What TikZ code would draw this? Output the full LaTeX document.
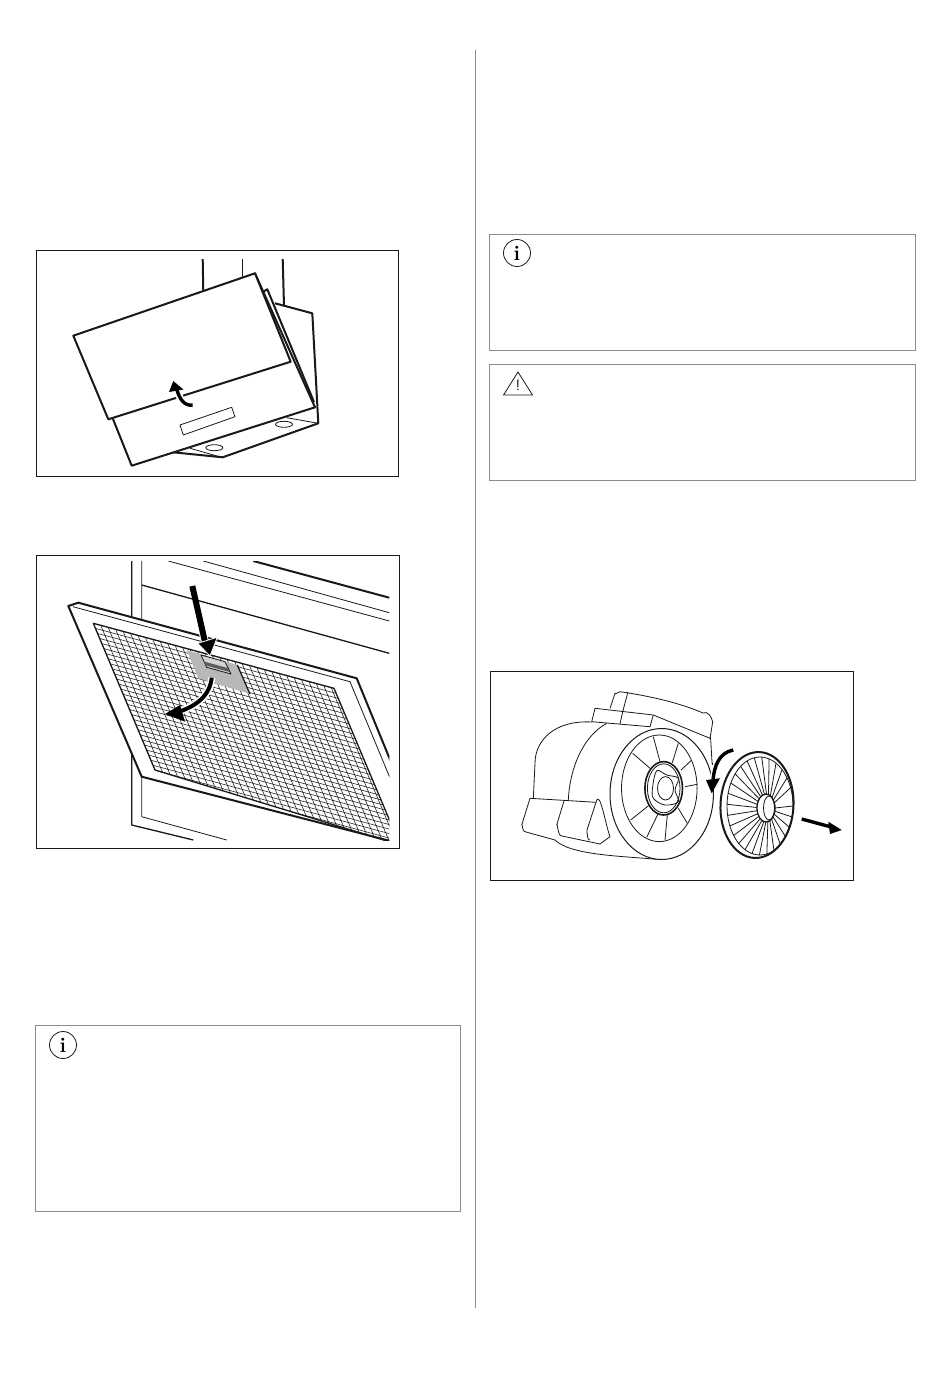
\documentclass[tikz,border=0pt]{standalone}
\usepackage{amsfonts}
\usepackage{tikz}
\definecolor{boxgray}{gray}{0.55}
\definecolor{tabgray}{gray}{0.72}
\definecolor{inkblack}{gray}{0.1}
\tikzset{
    panel/.style={draw=inkblack,line width=0.9pt},
    notebox/.style={draw=boxgray,line width=0.9pt},
    heavy/.style={draw=inkblack,line width=2pt,line join=round},
    medium/.style={draw=inkblack,line width=1.3pt,line join=round},
    fine/.style={draw=inkblack,line width=0.8pt,line join=round},
    meshline/.style={draw=inkblack,line width=0.55pt},
    tipfill/.style={fill=black},
    infomark/.style={draw=inkblack,line width=0.8pt,circle,minimum size=27pt,inner sep=0pt,font=\fontsize{21}{21}\selectfont\bfseries}
}
\begin{document}
\begin{tikzpicture}[x=1pt,y=-1pt]
    \useasboundingbox (0,0) rectangle (950,1383);
    \fill [white] (0,0) rectangle (950,1383);
    \draw [boxgray,line width=0.9pt] (475.5,50)--(475.5,1308); % column rule

    \draw [panel] (36.5,250.5) rectangle (398.5,476.5); % first panel
    \draw [heavy] (202.7,259)--(203.3,292); \draw [fine] (242,259)--(242,277); \draw [heavy] (282.7,259)--(284,306); % chimney
    \draw [heavy] (275,303.3)--(312.3,313.3)--(318.3,423.3)--(222.7,457.3)--(173.3,452.3); % back body
    \draw [heavy] (263.3,291.7)--(267.3,289.3)--(314,402); % back edge
    \draw [fine] (190,448.3)--(221.7,457.3); \draw [fine] (286.7,417.7)--(318.3,423.3); % underside
    \draw [fine] (214.3,447.7) ellipse [x radius=8.5,y radius=3]; \draw [fine] (284,424.3) ellipse [x radius=8.5,y radius=3]; % lamps
    \draw [heavy,fill=white] (112.7,418.3)--(131.7,465.7)--(315,407.3)--(255,273.3)--cycle; % lower cover
    \draw [heavy,fill=white] (73.3,335.7)--(255,273.3)--(290.7,361.7)--(108.3,419.3)--cycle; % front cover
    \draw [fine] (180,425)--(231.7,407.3)--(235,416.7)--(183.3,435)--cycle; % display
    \draw [white,line width=7pt] (192.7,405) to [out=190,in=285] (177,390); % arrow gap
    \draw [black,line width=3.4pt] (192.7,405) to [out=190,in=285] (177,390);
    \fill [tipfill] (173.3,381)--(183.5,389.5)--(169,392)--cycle; % lift arrow

    \draw [panel] (36.5,555.5) rectangle (399.5,848.5); % second panel
    \begin{scope}
        \clip (37,561) rectangle (389.3,840.7);
        \draw [medium] (131.7,561)--(131.7,825)--(193.3,840); \draw [fine] (141.7,561)--(141.7,816.7)--(226.7,840); % cabinet
        \draw [fine] (168.3,561)--(389.3,621); \draw [fine] (203.3,561)--(389.3,612.7); % upper thin lines
        \draw [heavy] (253.3,561)--(389.3,597.7); \draw [medium] (141.7,585)--(389.3,653.3); % upper thick lines
        \draw [heavy,fill=white] (68.3,606)--(78.3,602.7)--(356.7,678.3)--(400,784)--(400,843.5)--(141.7,776.7)--cycle; % filter frame
        \draw [fine] (73,606.7)--(350,681.7)--(400,802); % frame inner edge
        \begin{scope}
            \clip (93.3,623.3)--(334,688.3)--(400,845)--(155,770)--cycle;
            \foreach \i in {0,...,40} \draw [meshline] ({93.3+2.13*\i},{623.3+5.07*\i})--++(340,91.8); % mesh along
            \foreach \j in {0,...,44} \draw [meshline] ({93.3+7.43*\j},{623.3+2*\j})--++(85,202); % mesh across
        \end{scope}
        \draw [medium] (93.3,623.3)--(334,688.3)--(400,845)--(155,770)--cycle; % mesh border
    \end{scope}
    \fill [tabgray] (186.7,650)--(237.3,665)--(250,694)--(198.3,678.3)--cycle; % tab
    \draw [medium] (237.3,665)--(250,694);
    \draw [fine,fill=tabgray!60!white] (201,655)--(225,661.7)--(231,674)--(206.7,667.3)--cycle; % tab slot
    \fill [inkblack!70!white] (204,661.5)--(227.5,668)--(229.5,672)--(206,665.5)--cycle; % slot bar
    \draw [white,line width=7pt] (211.7,677.7) .. controls (210,695) and (197,706) .. (178,712); % arrow gap
    \draw [black,line width=4pt] (211.7,677.7) .. controls (210,695) and (197,706) .. (178,712);
    \fill [tipfill] (165,714)--(180,705)--(185,721.7)--cycle; % turn arrow
    \draw [white,line width=8pt] (200,620)--(205,642); % push arrow gap
    \draw [black,line width=6pt] (192.3,586)--(205,642); % push arrow
    \fill [tipfill,draw=white,line width=0.8pt] (210,656)--(197.7,643.3)--(217.3,637.3)--cycle;

    \draw [panel] (490,671.5) rectangle (853.5,880.5); % third panel
    \draw [fine] (610,708.3)--(615,693.3) to [out=-80,in=175] (620,691.7) .. controls (650,696) and (680,703) .. (703,713) to [out=30,in=100] (712.7,722)--(710,738.3); % motor top
    \draw [fine] (628,691.7)--(622.7,711.7); % top seam
    \draw [fine] (595,708.3)--(591.7,721.7)--(650,726.7); \draw [fine] (595,708.3)--(653.3,715)--(710,738.3); \draw [fine] (653.3,715)--(650,726.7); \draw [fine] (622.7,711.7)--(620,724); % second tier
    \draw [fine] (710,738.3) to [out=85,in=265] (712.7,763.3); % right side
    \draw [fine] (591.7,722) .. controls (555,720) and (535,740) .. (535,763.3)--(533.3,798.3); % shell outer
    \draw [fine] (606.7,723.3) .. controls (585,735) and (570,765) .. (568.3,800); % shell inner
    \draw [fine] (530,798.3)--(596,802.3); % foot top
    \draw [fine] (530,798.3)--(521.7,825) to [out=75,in=190] (525,831.7)--(555,840); % foot left
    \draw [fine] (564,801)--(556.7,825) to [out=80,in=190] (562,836)--(600,844); % foot middle
    \draw [fine] (596,802.3) to [out=75,in=110] (610,836.7)--(600,844); \draw [fine] (596,802.3)--(587,830) to [out=85,in=190] (590,840); % foot right
    \draw [fine] (555,840) .. controls (570,855) and (620,856) .. (656.7,859.3); % shell bottom
    \draw [fine,line width=1pt,fill=white] (661.7,794) ellipse [x radius=51.7,y radius=65.5]; % front ring
    \draw [fine] (659.3,788.3) ellipse [x radius=37.8,y radius=53.3]; % inner ring
    \draw [fine] (653.3,736.7)--(660,761.7); \draw [fine] (678.3,743.3)--(672.3,762.7); \draw [fine] (691,760.7)--(681,770); \draw [fine] (697.3,784.3)--(685,786.7); % spokes right
    \draw [fine] (687.3,823.3)--(678.3,808.3); \draw [fine] (665,840)--(667.3,815); \draw [fine] (646.7,837.3)--(658.3,813.3); \draw [fine] (630.7,820)--(649.3,805); \draw [fine] (632.7,753.3)--(650,768.3); % spokes left
    \draw [medium,line width=1.6pt,fill=white] (663.7,788.3) ellipse [x radius=18.8,y radius=26.7]; % hub
    \draw [fine] (663.7,788.3) ellipse [x radius=16.3,y radius=24.5];
    \draw [fine] plot [smooth cycle,tension=0.55] coordinates {(656.7,770.7) (666.7,775) (678.3,778.3) (675,790) (678.3,801.7) (665,805) (653.3,798.3) (652.7,786.7)}; % clover
    \draw [fine] (665.5,788.3) ellipse [x radius=8,y radius=11.7];
    \draw [white,line width=6.5pt] (733.3,750) to [out=190,in=85] (713,780); % arrow gap
    \draw [black,line width=3.4pt] (733.3,750) to [out=190,in=85] (713,780);
    \fill [tipfill] (711.7,793.3)--(706,780)--(720,778.3)--cycle; % turn arrow
    \draw [heavy,fill=white] (757,805) ellipse [x radius=36.5,y radius=53,rotate=-3]; % filter disc
    \draw [fine] (760,806) ellipse [x radius=33,y radius=49];
    \foreach \a in {0,13,...,347}
        \draw [fine] ({766+9*cos(\a)},{808+14*sin(\a)})--({760+33*cos(\a)},{806+49*sin(\a)}); % disc ribs
    \draw [medium,fill=white] (766,808) ellipse [x radius=9,y radius=14]; % disc hub
    \draw [fine] (769,808) ellipse [x radius=5.5,y radius=12];
    \draw [black,line width=3.4pt] (801.7,819)--(832,827.2); % pull arrow
    \fill [tipfill] (841.7,830)--(828.3,821.7)--(830,834)--cycle;

    \draw [notebox] (489.5,234.5) rectangle (915,350.5); % right note
    \draw [notebox] (489.5,364.5) rectangle (915,480.5); % warning note
    \draw [notebox] (35.5,1025.5) rectangle (460.5,1211.5); % left note
    \node [infomark] (infotop) at (517,253) {i};
    \node [infomark] (infolow) at (63,1045) {i};
    \draw [fine] (518,372)--(532.5,395)--(503.5,395)--cycle; % warning sign
    \node [inner sep=0pt,font=\sffamily\fontsize{15}{15}\selectfont] (warnmark) at (518,385.5) {!};
\end{tikzpicture}
\end{document}
